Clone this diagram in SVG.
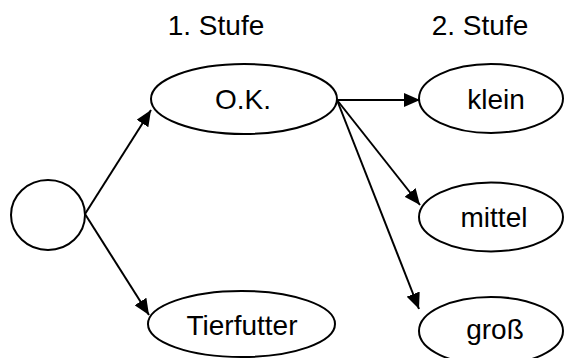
<svg xmlns="http://www.w3.org/2000/svg" width="564" height="358" viewBox="0 0 564 358">
<style>
.n{fill:#fff;stroke:#000;stroke-width:2}
.t{font-family:"Liberation Sans",Arial,sans-serif;font-size:28px;fill:#000;text-anchor:middle}
.e{stroke:#000;stroke-width:2;fill:none;marker-end:url(#ah)}
</style>
<defs>
<marker id="ah" markerUnits="userSpaceOnUse" markerWidth="18" markerHeight="14" refX="16" refY="7" orient="auto">
<path d="M0,0 L16,7 L0,14 z" fill="#000"/>
</marker>
</defs>
<g id="labels">
<text class="t" x="216" y="35">1. Stufe</text>
<text class="t" x="480" y="35">2. Stufe</text>
</g>
<g id="connectors">
<line class="e" x1="85" y1="214" x2="151" y2="110"/>
<line class="e" x1="85" y1="214" x2="149" y2="315"/>
<line class="e" x1="337" y1="100" x2="420" y2="100"/>
<line class="e" x1="337" y1="100" x2="420" y2="205"/>
<line class="e" x1="337" y1="100" x2="419" y2="309"/>
</g>
<g id="root"><ellipse class="n" cx="48" cy="215" rx="37" ry="35"/></g>
<g id="ok"><ellipse class="n" cx="244" cy="99" rx="93" ry="35"/><text class="t" x="243" y="109">O.K.</text></g>
<g id="tierfutter"><ellipse class="n" cx="241.5" cy="324" rx="93.5" ry="33"/><text class="t" x="242" y="335">Tierfutter</text></g>
<g id="klein"><ellipse class="n" cx="491" cy="98.5" rx="72" ry="34.5"/><text class="t" x="496" y="109">klein</text></g>
<g id="mittel"><ellipse class="n" cx="491" cy="217" rx="72" ry="34.5"/><text class="t" x="494" y="227">mittel</text></g>
<g id="gross"><ellipse class="n" cx="491" cy="331" rx="72" ry="34"/><text class="t" x="495" y="339">groß</text></g>
</svg>
